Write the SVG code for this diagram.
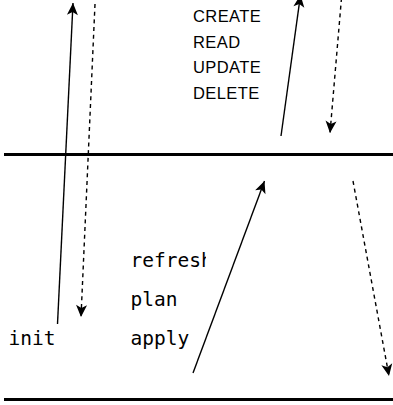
<svg xmlns="http://www.w3.org/2000/svg" width="393" height="405" viewBox="0 0 393 405">
  <style>
    .boundary { stroke: #000; stroke-width: 3; fill: none; }
    .flow { stroke: #000; stroke-width: 1.4; fill: none; }
    .dashed { stroke-dasharray: 4 3.7; }
    .sans { font-family: "Liberation Sans", Arial, sans-serif; font-size: 16.5px; letter-spacing: 0.4px; fill: #000; }
    .mono { font-family: "DejaVu Sans Mono", "Liberation Mono", monospace; font-size: 19.5px; fill: #000; }
  </style>
  <defs>
    <marker id="head" markerUnits="userSpaceOnUse" markerWidth="14" markerHeight="14" viewBox="-13 -7 14 14" refX="0" refY="0" orient="auto">
      <path d="M0,0 L-12,-5.5 L-9,0 L-12,5.5 Z" fill="#000"/>
    </marker>
    <clipPath id="cmd-clip">
      <rect x="0" y="0" width="206" height="405"/>
    </clipPath>
  </defs>

  <rect width="393" height="405" fill="#fff"/>

  <!-- layer boundaries -->
  <g id="boundaries">
    <line class="boundary" x1="4" y1="154.5" x2="393" y2="154.5"/>
    <line class="boundary" x1="4" y1="399.5" x2="393" y2="399.5"/>
  </g>

  <!-- provider operations -->
  <g id="crud">
    <text class="sans" x="193" y="22">CREATE</text>
    <text class="sans" x="193" y="47.7">READ</text>
    <text class="sans" x="193" y="73.3">UPDATE</text>
    <text class="sans" x="193" y="99">DELETE</text>
  </g>

  <!-- CLI commands -->
  <g id="init">
    <text class="mono" x="8.5" y="345">init</text>
  </g>
  <g id="commands" clip-path="url(#cmd-clip)">
    <text class="mono" x="130.5" y="267">refresh</text>
    <text class="mono" x="130.5" y="306">plan</text>
    <text class="mono" x="130.5" y="345">apply</text>
  </g>

  <!-- connectors -->
  <g id="connectors">
    <line class="flow" x1="57.5" y1="324" x2="73" y2="3" marker-end="url(#head)"/>
    <line class="flow dashed" x1="95" y1="4" x2="81" y2="317" marker-end="url(#head)"/>
    <line class="flow" x1="281" y1="136" x2="300.5" y2="-5" marker-end="url(#head)"/>
    <line class="flow dashed" x1="341.5" y1="-2" x2="330" y2="133" marker-end="url(#head)"/>
    <line class="flow" x1="193" y1="373" x2="264.5" y2="181" marker-end="url(#head)"/>
    <line class="flow dashed" x1="353" y1="181" x2="389" y2="376" marker-end="url(#head)"/>
  </g>
</svg>
